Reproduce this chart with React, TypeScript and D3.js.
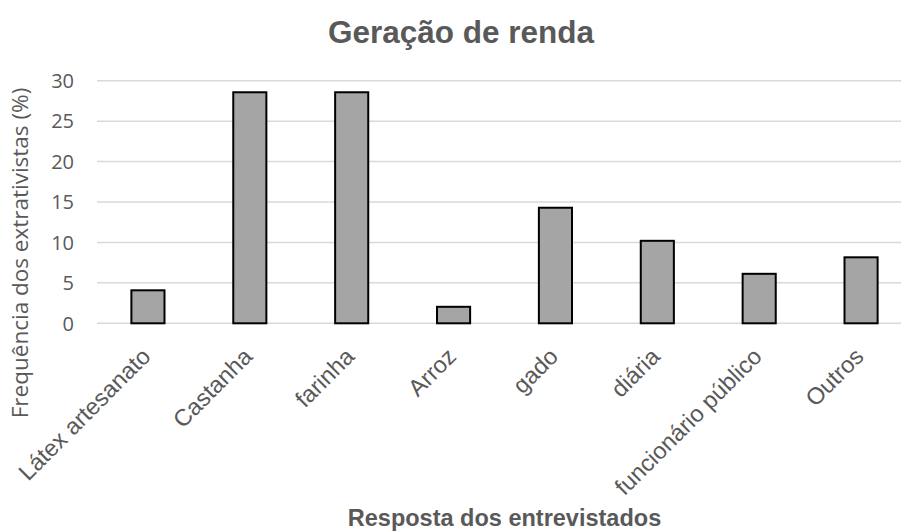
import React from "react";
import * as d3 from "d3";

// Fonte de renda citada pelos entrevistados (% de 49 extrativistas)
const categories: string[] = [
  "Látex artesanato",
  "Castanha",
  "farinha",
  "Arroz",
  "gado",
  "diária",
  "funcionário público",
  "Outros",
];
const frequencies: number[] = [4.08, 28.57, 28.57, 2.04, 14.29, 10.2, 6.12, 8.16];
const yTicks: number[] = [0, 5, 10, 15, 20, 25, 30];

const chartTitle = "Geração de renda";
const xTitle = "Resposta dos entrevistados";
const yTitle = "Frequência dos extrativistas (%)";

const W = 901;
const H = 532;
const plot = { left: 97, right: 912, top: 80.7, bottom: 323.3 };

const textColor = "#595959";
const armFont = "'Liberation Sans', Arial, sans-serif";
const tickFont = "'Open Sans', 'Noto Sans', sans-serif";

export default function App() {
  const x = d3
    .scaleBand<string>()
    .domain(categories)
    .range([plot.left, plot.right])
    .paddingInner(0.675)
    .paddingOuter(0.3375);

  const y = d3.scaleLinear().domain([0, 30]).range([plot.bottom, plot.top]);

  const midX = (plot.left + plot.right) / 2;

  return (
    <svg
      width={W}
      height={H}
      style={{ position: "absolute", left: 0, top: 0, background: "#fff" }}
    >
      <text
        x={461}
        y={43}
        textAnchor="middle"
        fontFamily={armFont}
        fontWeight="bold"
        fontSize={31.5}
        fill={textColor}
      >
        {chartTitle}
      </text>

      {/* grade horizontal */}
      {yTicks.map((t) => (
        <line
          key={t}
          x1={plot.left}
          x2={plot.right}
          y1={y(t)}
          y2={y(t)}
          stroke="#d9d9d9"
          strokeWidth={1.5}
        />
      ))}

      {/* rótulos do eixo Y */}
      {yTicks.map((t) => (
        <text
          key={"l" + t}
          x={74}
          y={y(t)}
          dy="0.36em"
          textAnchor="end"
          fontFamily={tickFont}
          fontSize={20}
          fill={textColor}
        >
          {t}
        </text>
      ))}

      {/* barras */}
      {categories.map((c, i) => (
        <rect
          key={c}
          x={x(c)}
          y={y(frequencies[i])}
          width={x.bandwidth()}
          height={y(0) - y(frequencies[i])}
          fill="#a5a5a5"
          stroke="#000"
          strokeWidth={2}
        />
      ))}

      {/* rótulos das categorias, inclinados */}
      {categories.map((c) => {
        const cx = (x(c) as number) + x.bandwidth() / 2;
        return (
          <text
            key={"c" + c}
            transform={`translate(${cx + 4},${358}) rotate(-45)`}
            textAnchor="end"
            fontFamily={armFont}
            fontSize={23.5}
            fill={textColor}
          >
            {c}
          </text>
        );
      })}

      <text
        x={midX}
        y={526}
        textAnchor="middle"
        fontFamily={armFont}
        fontWeight="bold"
        fontSize={23.5}
        fill={textColor}
      >
        {xTitle}
      </text>

      <text
        transform={`translate(28,253) rotate(-90)`}
        textAnchor="middle"
        fontFamily={tickFont}
        fontSize={22.5}
        fill={textColor}
      >
        {yTitle}
      </text>
    </svg>
  );
}
